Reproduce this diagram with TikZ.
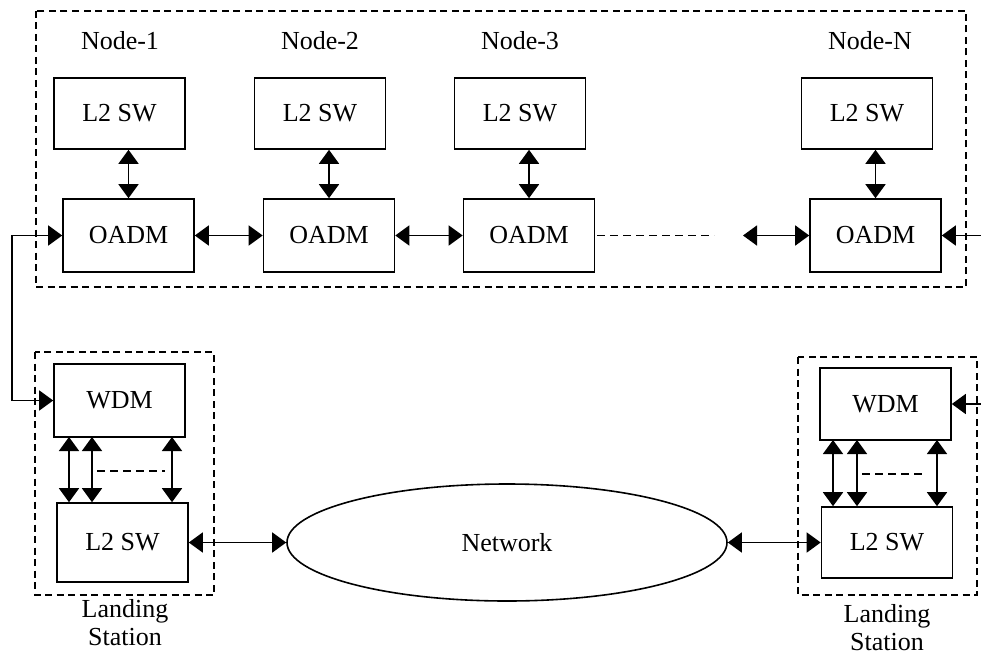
\documentclass[tikz,border=0pt]{standalone}
\usepackage{fontspec}
\setmainfont{Liberation Serif}
\usetikzlibrary{arrows.meta,shapes.geometric}
\begin{document}
\begin{tikzpicture}[x=1pt,y=-1pt,
  every node/.style={font=\fontsize{26}{28}\selectfont},
  box/.style={draw,line width=1.6pt,rectangle,inner sep=0pt},
  swbox/.style={box,minimum width=131,minimum height=71},
  oadm/.style={box,minimum width=131,minimum height=73},
  wdmbox/.style={box,minimum width=131,minimum height=73},
  grp/.style={draw,line width=1.3pt,dash pattern=on 7pt off 4.5pt},
  tip/.style={Triangle[length=14pt,width=20pt]},
  conn/.style={line width=1.6pt,{Triangle[length=14pt,width=20pt]}-{Triangle[length=14pt,width=20pt]}},
  conn1/.style={line width=1.6pt,-{Triangle[length=14pt,width=20pt]}},
  dline/.style={line width=1.4pt,dash pattern=on 8pt off 5pt},
  lbl/.style={align=center,inner sep=0pt}]
\useasboundingbox (0,0) rectangle (981,658);
% group frames
\draw[grp] (36,11) rectangle (966,287);
\draw[grp] (35,352) rectangle (214,595);
\draw[grp] (798,357) rectangle (977,595);
% labels
\node[lbl] (n1) at (120,41) {Node-1};
\node[lbl] (n2) at (320,41) {Node-2};
\node[lbl] (n3) at (520,41) {Node-3};
\node[lbl] (nn) at (870,41) {Node-N};
% top row
\node[swbox] (sw1) at (119.5,113.5) {L2 SW};
\node[swbox] (sw2) at (320,113.5) {L2 SW};
\node[swbox] (sw3) at (520,113.5) {L2 SW};
\node[swbox] (swn) at (867,113.5) {L2 SW};
\node[oadm] (o1) at (128.5,235.5) {OADM};
\node[oadm] (o2) at (329,235.5) {OADM};
\node[oadm] (o3) at (529,235.5) {OADM};
\node[oadm] (on) at (875.5,235.5) {OADM};
\draw[conn] (sw1.south -| o1.north) -- (o1.north);
\draw[conn] (sw2.south -| o2.north) -- (o2.north);
\draw[conn] (sw3.south -| o3.north) -- (o3.north);
\draw[conn] (swn.south -| on.north) -- (on.north);
\draw[conn] (o1.east) -- (o2.west);
\draw[conn] (o2.east) -- (o3.west);
\coordinate (d1) at (597,235.5);
\coordinate (d2) at (714,235.5);
\draw[dline] (d1) -- (d2);
\coordinate (d3) at (743,235.5);
\draw[conn] (d3) -- (on.west);
\coordinate (r1) at (981,235.5);
\draw[conn1] (r1) -- (on.east);
% landing station left
\node[wdmbox] (w1) at (119.5,400.5) {WDM};
\node[swbox,minimum height=79] (s1) at (122.5,542.5) {L2 SW};
\coordinate (lft) at (12,235.5);
\draw[conn] (o1.west) -- (lft) |- (w1.west);
\coordinate (a1) at (69,437);
\coordinate (a2) at (92,437);
\coordinate (a3) at (172,437);
\draw[conn] (a1) -- (a1 |- s1.north);
\draw[conn] (a2) -- (a2 |- s1.north);
\draw[conn] (a3) -- (a3 |- s1.north);
\coordinate (e1) at (97,471);
\coordinate (e2) at (165,471);
\draw[dline] (e1) -- (e2);
\node[lbl] (ls1) at (125,623) {Landing\\Station};
% network
\node[draw,ellipse,line width=1.6pt,minimum width=440,minimum height=117,inner sep=0pt] (net) at (507,542.5) {Network};
\draw[conn] (s1.east) -- (net.west);
% landing station right
\node[wdmbox,minimum height=72] (w2) at (885.5,404) {WDM};
\node[swbox] (s2) at (887,542.5) {L2 SW};
\draw[conn] (net.east) -- (s2.west);
\coordinate (r2) at (981,404);
\draw[conn1] (r2) -- (w2.east);
\coordinate (b1) at (833,440);
\coordinate (b2) at (857,440);
\coordinate (b3) at (937,440);
\draw[conn] (b1) -- (b1 |- s2.north);
\draw[conn] (b2) -- (b2 |- s2.north);
\draw[conn] (b3) -- (b3 |- s2.north);
\coordinate (f1) at (862,474);
\coordinate (f2) at (924,474);
\draw[dline] (f1) -- (f2);
\node[lbl] (ls2) at (887,628) {Landing\\Station};
\end{tikzpicture}
\end{document}
